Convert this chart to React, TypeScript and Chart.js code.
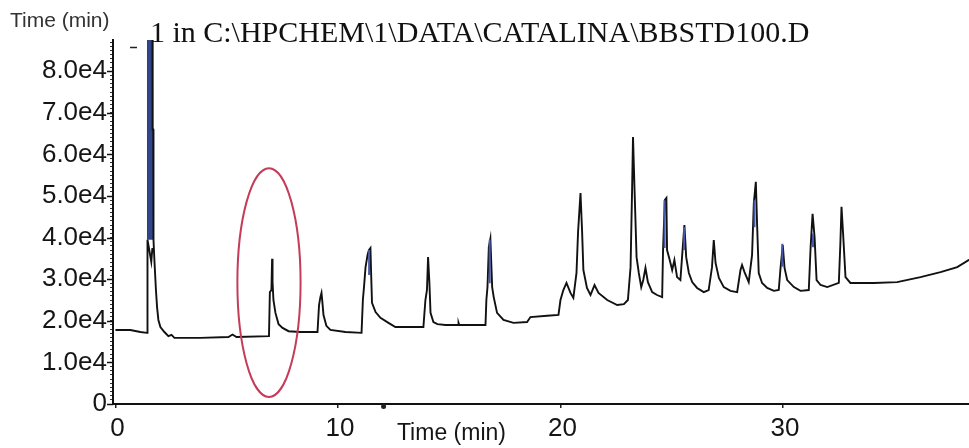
import React, { useEffect, useRef } from 'react';
import { Chart, registerables } from 'chart.js';

Chart.register(...registerables);

// Retention time (min) of each trace point
const TIME_MIN: number[] = [
  0.0, 0.67, 1.12, 1.42, 1.44, 1.61, 1.66, 1.66,
  1.66, 1.67, 1.7, 1.71, 1.75, 1.82, 1.87, 1.93, 2.02, 2.2, 2.38, 2.52, 2.65,
  3.82, 5.08, 5.26, 5.44, 6.9, 6.94, 7.01, 7.04, 7.06, 7.1, 7.19, 7.33, 7.51, 7.78,
  8.31, 9.08, 9.15, 9.21, 9.26, 9.3, 9.35, 9.48, 9.66, 10.34, 11.06, 11.12, 11.17,
  11.24, 11.33, 11.39, 11.46, 11.49, 11.53, 11.69, 11.91, 12.27, 12.58, 13.84,
  13.93, 14.0, 14.05, 14.11, 14.16, 14.29, 14.47, 14.83, 15.4, 15.42, 15.45, 16.63,
  16.67, 16.72, 16.78, 16.85, 16.93, 17.0, 17.15, 17.44, 17.89, 18.5, 18.65, 19.4,
  19.91, 20.0, 20.13, 20.27, 20.45, 20.58, 20.72, 20.79, 20.9, 20.97, 21.03, 21.19,
  21.35, 21.53, 21.71, 22.1, 22.55, 22.85, 23.03, 23.15, 23.22, 23.26, 23.33, 23.42,
  23.52, 23.63, 23.72, 23.82, 23.93, 24.12, 24.34, 24.57, 24.61, 24.69, 24.76, 24.79,
  24.91, 25.02, 25.12, 25.24, 25.39, 25.47, 25.57, 25.65, 25.77, 25.92, 26.14, 26.44,
  26.66, 26.81, 26.89, 26.97, 27.12, 27.34, 27.64, 27.94, 28.09, 28.16, 28.27, 28.46,
  28.61, 28.69, 28.78, 28.84, 28.91, 29.06, 29.29, 29.59, 29.81, 29.89, 29.99, 30.07,
  30.19, 30.49, 30.79, 31.16, 31.24, 31.33, 31.42, 31.51, 31.69, 31.99, 32.51, 32.58,
  32.63, 32.7, 32.81, 33.03, 34.08, 35.13, 36.18, 37.08, 37.83, 38.34, 38.65,
];

// Detector response at each time (null splits the trace around the saturated solvent peak)
const SIGNAL: (number | null)[] = [
  17800, 17800, 17300, 17100, 39500, 34200, 37500, null,
  95000, 66000, 66000, 39400, 34600, 27400, 23300, 20200, 18500, 17300, 16300, 16600, 15900,
  15900, 16100, 16700, 16100, 16300, 26900, 27400, 34900, 29300, 25000, 21900, 19200, 18300, 17500,
  17300, 17300, 23800, 25700, 26700, 24500, 21400, 18800, 17800, 17300, 17100, 25000, 28100,
  32900, 35800, 37000, 37500, 31500, 24300, 22100, 20700, 19500, 18500, 18500,
  25000, 27400, 35300, 29100, 21900, 19700, 19200, 19000, 19000, 19500, 19000, 19000,
  25000, 28100, 37700, 39700, 28100, 25700, 21900, 20200, 19500, 19700, 20900, 21200,
  21400, 25000, 27400, 29100, 26700, 25500, 31500, 41300, 50700, 41800, 32200, 27900,
  26200, 28600, 26700, 25000, 23800, 24000, 25000, 32900, 51900, 64200, 51400, 35300,
  31500, 28100, 29800, 32700, 29300, 26900, 26200, 25700, 37000, 49000, 49500, 37000,
  34600, 32200, 34600, 30500, 29800, 35800, 43000, 35300, 31500, 29300, 27900, 26900,
  27400, 32900, 39400, 33900, 30300, 28100, 27200, 26900, 32200, 33400, 31700, 29300,
  35800, 48300, 53400, 42600, 31500, 29100, 27900, 27200, 27400, 32700, 38200, 32700,
  29800, 28100, 27200, 27400, 37500, 45700, 40100, 29800, 28600, 28100, 29100, 38700,
  47400, 41100, 30500, 29100, 29100, 29300, 30500, 31700, 32900, 34600, 35100,
];

// Saturated solvent peak outline (filled)
const SOLVENT_TIME: number[] = [1.44, 1.44, 1.66, 1.67, 1.7, 1.71];
const SOLVENT_SIGNAL: number[] = [39500, 95000, 95000, 66000, 66000, 39500];
const SOLVENT_FLOOR = 39500;

// Overloaded peak tips rendered in the plotter's blue pen
const TIP_TIME: number[] = [
  11.4, 11.4, 11.4, 16.82, 16.82, 16.82, 24.68, 24.68, 24.68, 25.56, 25.56, 25.56,
  28.72, 28.72, 28.72, 29.97, 29.97, 29.97, 31.35, 31.35,
];
const TIP_SIGNAL: (number | null)[] = [
  37000, 31000, null, 39500, 29000, null, 49000, 37500, null, 42500, 37000, null,
  49000, 42500, null, 38500, 33000, null, 41000, 37700,
];

const X_TICKS: number[] = [0, 10, 20, 30];
const Y_MAJOR: number[] = [0, 10000, 20000, 30000, 40000, 50000, 60000, 70000, 80000];
const Y_MINOR_STEP = 1000;

const X_MIN = -0.11;
const X_MAX = 38.36;
const Y_MAX = 87500;

const TITLE = '1 in C:\\HPCHEM\\1\\DATA\\CATALINA\\BBSTD100.D';
const AXIS_TITLE = 'Time (min)';

// Highlight ring around the peak near 7 min (centre and radii in axis units)
const RING = { t: 6.9, v: 29200, rt: 1.42, rv: 27500 };

const fmtY = (v: number) => (v === 0 ? '0' : (v / 10000).toFixed(1) + 'e4');

const overlayPlugin = {
  id: 'chromOverlay',
  afterDatasetsDraw(chart: any) {
    const { ctx, scales } = chart;
    const x = scales.x;
    const y = scales.y;
    const cx = x.getPixelForValue(RING.t);
    const cy = y.getPixelForValue(RING.v);
    const rx = x.getPixelForValue(RING.t + RING.rt) - cx;
    const ry = cy - y.getPixelForValue(RING.v + RING.rv);
    ctx.save();
    ctx.strokeStyle = '#c43c58';
    ctx.lineWidth = 2;
    ctx.beginPath();
    ctx.ellipse(cx, cy, rx, ry, 0, 0, Math.PI * 2);
    ctx.stroke();
    ctx.restore();
  },
  afterDraw(chart: any) {
    const { ctx, chartArea, scales } = chart;
    const x = scales.x;
    const y = scales.y;
    ctx.save();

    // major y ticks
    ctx.strokeStyle = '#111';
    ctx.lineWidth = 1.5;
    for (const v of Y_MAJOR) {
      const py = Math.round(y.getPixelForValue(v)) + 0.5;
      ctx.beginPath();
      ctx.moveTo(chartArea.left - 6, py);
      ctx.lineTo(chartArea.left, py);
      ctx.stroke();
    }

    // y tick labels
    ctx.fillStyle = '#151515';
    ctx.font = '26px "Liberation Sans", Arial, sans-serif';
    ctx.textAlign = 'right';
    ctx.textBaseline = 'middle';
    for (const v of Y_MAJOR) {
      ctx.fillText(fmtY(v), chartArea.left - 6, y.getPixelForValue(v));
    }

    // x tick labels
    ctx.textAlign = 'center';
    for (const t of X_TICKS) {
      ctx.fillText(String(t), x.getPixelForValue(t) + 2, chartArea.bottom + 25);
    }

    // x axis title
    ctx.font = '23px "Liberation Sans", Arial, sans-serif';
    ctx.fillText(AXIS_TITLE, x.getPixelForValue(15.1), chartArea.bottom + 30);

    // y axis caption in the top-left corner
    ctx.fillStyle = '#333';
    ctx.font = '21px "Liberation Sans", Arial, sans-serif';
    ctx.textAlign = 'left';
    ctx.fillText(AXIS_TITLE, 10, 21);

    // file title
    ctx.fillStyle = '#111';
    ctx.font = '30px "Liberation Serif", "Times New Roman", serif';
    ctx.fillText(TITLE, x.getPixelForValue(1.55), 34);

    // small pen marks
    const mx = x.getPixelForValue(0.79);
    const my = Math.round(y.getPixelForValue(85800)) + 0.5;
    ctx.strokeStyle = '#222';
    ctx.lineWidth = 1.5;
    ctx.beginPath();
    ctx.moveTo(mx - 3, my);
    ctx.lineTo(mx + 4, my);
    ctx.stroke();

    ctx.fillStyle = '#222';
    ctx.beginPath();
    ctx.arc(x.getPixelForValue(12.05), chartArea.bottom + 2.5, 2.5, 0, Math.PI * 2);
    ctx.fill();

    ctx.restore();
  },
};

export default function App() {
  const canvasRef = useRef<HTMLCanvasElement | null>(null);

  useEffect(() => {
    const canvas = canvasRef.current;
    if (!canvas) return;

    const trace = TIME_MIN.map((t, i) => ({ x: t, y: SIGNAL[i] }));
    const solvent = SOLVENT_TIME.map((t, i) => ({ x: t, y: SOLVENT_SIGNAL[i] }));
    const tips = TIP_TIME.map((t, i) => ({ x: t, y: TIP_SIGNAL[i] }));

    const yMinor: number[] = [];
    for (let v = 0; v <= Y_MAX; v += Y_MINOR_STEP) yMinor.push(v);

    const chart = new Chart(canvas, {
      type: 'line',
      data: {
        datasets: [
          {
            label: 'tips',
            data: tips as any,
            borderColor: '#4659a8',
            borderWidth: 2,
            pointRadius: 0,
            spanGaps: false,
            tension: 0,
            order: 0,
          },
          {
            label: 'signal',
            data: trace as any,
            borderColor: '#111111',
            borderWidth: 1.9,
            pointRadius: 0,
            spanGaps: false,
            tension: 0,
            order: 1,
          },
          {
            label: 'solvent',
            data: solvent as any,
            borderColor: '#2d3f80',
            backgroundColor: '#31458a',
            borderWidth: 1,
            pointRadius: 0,
            tension: 0,
            fill: { value: SOLVENT_FLOOR },
            order: 2,
          },
        ],
      },
      options: {
        responsive: false,
        animation: false,
        events: [],
        layout: { padding: { top: 40, left: 0, right: 0, bottom: 0 } },
        plugins: {
          legend: { display: false },
          tooltip: { enabled: false },
          title: { display: false },
        },
        scales: {
          x: {
            type: 'linear',
            min: X_MIN,
            max: X_MAX,
            afterBuildTicks: (scale: any) => {
              scale.ticks = X_TICKS.map((v) => ({ value: v }));
            },
            afterFit: (scale: any) => {
              scale.height = 44;
            },
            ticks: { display: false },
            grid: { drawOnChartArea: false, drawTicks: true, tickLength: 4, color: '#222', lineWidth: 1.5 },
            border: { display: true, color: '#111', width: 2 },
          },
          y: {
            type: 'linear',
            min: 0,
            max: Y_MAX,
            afterBuildTicks: (scale: any) => {
              scale.ticks = yMinor.map((v) => ({ value: v }));
            },
            afterFit: (scale: any) => {
              scale.width = 113;
            },
            ticks: { display: false },
            grid: { drawOnChartArea: false, drawTicks: true, tickLength: 3, color: '#333', lineWidth: 1 },
            border: { display: true, color: '#111', width: 2 },
          },
        },
      },
      plugins: [overlayPlugin],
    });

    return () => chart.destroy();
  }, []);

  return (
    <div style={{ position: 'absolute', left: 0, top: 0, width: 969, height: 448, background: '#fff' }}>
      <canvas ref={canvasRef} width={969} height={448} style={{ display: 'block' }} />
    </div>
  );
}
